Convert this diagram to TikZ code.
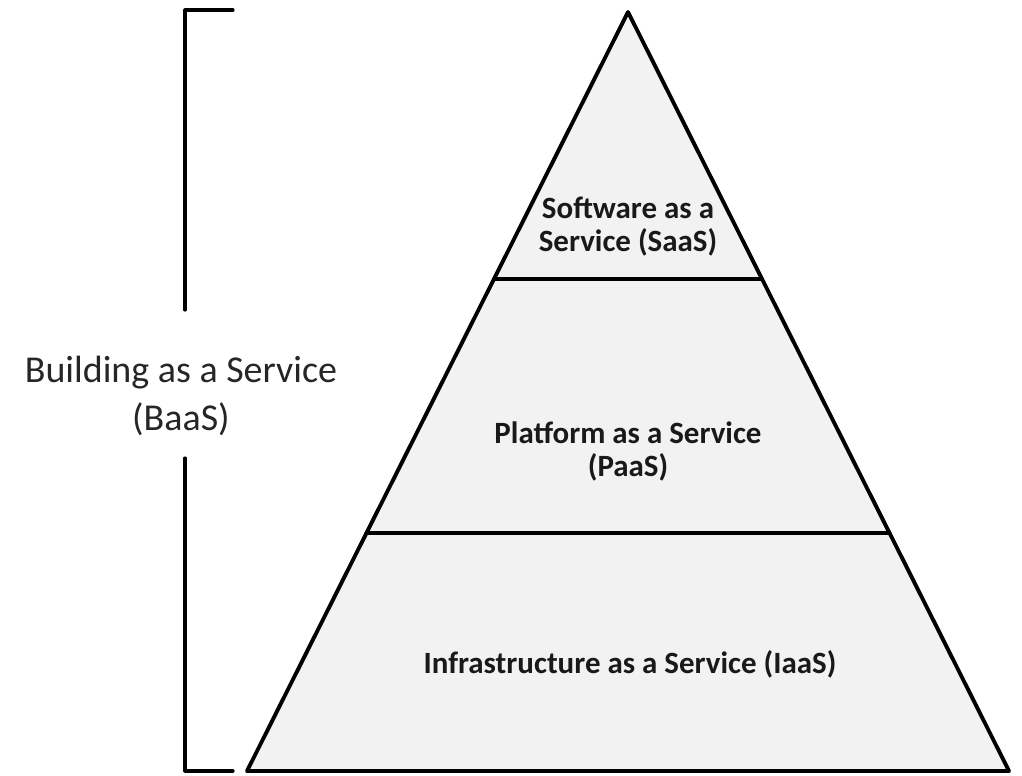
\documentclass[tikz,border=0pt]{standalone}
\usepackage{fontspec}
\setmainfont{Carlito}
\usetikzlibrary{calc,positioning}
\definecolor{layergray}{RGB}{242,242,242}

\begin{document}
\begin{tikzpicture}[x=0.01cm,y=-0.01cm,line cap=round,line join=round]
\tikzset{
  layer/.style={font=\fontsize{8.8}{9.4}\selectfont\bfseries,align=center,text=black!90},
  edge/.style={draw=black,line width=1.1pt}
}
\useasboundingbox (0,0) rectangle (1022,775);
% Piramida: SaaS, PaaS, IaaS
\coordinate (apex) at (628,12);
\coordinate (baseL) at (247,771);
\coordinate (baseR) at (1009,771);
\filldraw[fill=layergray,edge] (apex)--(baseL)--(baseR)--cycle;
\coordinate (saasL) at ($(apex)!0.3518!(baseL)$);
\coordinate (saasR) at ($(apex)!0.3518!(baseR)$);
\coordinate (paasL) at ($(apex)!0.6864!(baseL)$);
\coordinate (paasR) at ($(apex)!0.6864!(baseR)$);
\draw[edge] (saasL)--(saasR);
\draw[edge] (paasL)--(paasR);
\node[layer] (saas) at (628,227) {Software as a\\Service (SaaS)};
\node[layer] (paas) at (628,451) {Platform as a Service\\(PaaS)};
\node[layer] (iaas) at (630,664) {Infrastructure as a Service (IaaS)};
% Klamra po lewej stronie
\coordinate (brTop) at (233,10);
\coordinate (brBot) at (233,771);
\draw[black,line width=0.9pt] (brTop)--(185,10)--(185,310);
\draw[black,line width=0.9pt] (185,458)--(185,771)--(brBot);
\node[font=\fontsize{10.8}{13.5}\selectfont,align=center,text=black!85] (baas) at (181,396)
 {Building as a Service\\(BaaS)};
\end{tikzpicture}
\end{document}
